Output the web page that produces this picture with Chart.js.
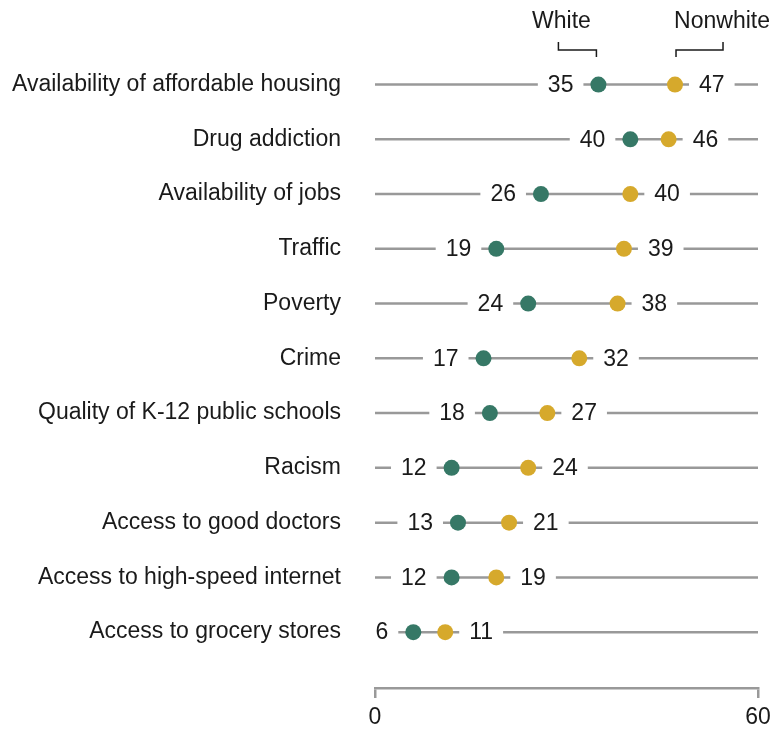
<!DOCTYPE html>
<html>
<head>
<meta charset="utf-8">
<script src="https://cdn.jsdelivr.net/npm/chart.js@4.4.0/dist/chart.umd.min.js"></script>
<style>body{margin:0;background:#fff}</style>
</head>
<body>
<canvas id="chartResults" width="782" height="730"></canvas>
<script>
'use strict';

var categories = [
  'Availability of affordable housing',
  'Drug addiction',
  'Availability of jobs',
  'Traffic',
  'Poverty',
  'Crime',
  'Quality of K-12 public schools',
  'Racism',
  'Access to good doctors',
  'Access to high-speed internet',
  'Access to grocery stores'
];
var white    = [35, 40, 26, 19, 24, 17, 18, 12, 13, 12, 6];
var nonwhite = [47, 46, 40, 39, 38, 32, 27, 24, 21, 19, 11];
var xTicks = [0, 60];
var seriesNames = ['White', 'Nonwhite'];

var FONT = '"Liberation Sans", Arial, sans-serif';
var GREEN = '#367866', GOLD = '#d6a92c', GRAY = '#999999', INK = '#1a1a1a';

function dots(values){
  return values.map(function(v, i){ return {x: v, y: i}; });
}

var datasets = [
  {label: seriesNames[0], data: dots(white), backgroundColor: GREEN, pointRadius: 8, pointBorderWidth: 0},
  {label: seriesNames[1], data: dots(nonwhite), backgroundColor: GOLD, pointRadius: 8, pointBorderWidth: 0}
];
// gray track behind each row
categories.forEach(function(c, i){
  datasets.push({
    label: c,
    data: [{x: xTicks[0], y: i}, {x: xTicks[xTicks.length - 1], y: i}],
    showLine: true, borderColor: GRAY, borderWidth: 2.5, pointRadius: 0
  });
});

function tag(ctx, text, x, y, align){
  var w = ctx.measureText(text).width;
  var left = align === 'right' ? x - w : x;
  ctx.fillStyle = '#fff';
  ctx.fillRect(left - 10, y - 6, w + 20, 12);
  ctx.fillStyle = INK;
  ctx.textAlign = align;
  ctx.fillText(text, x, y + 1);
}

var labelPlugin = {
  id: 'valueLabels',
  afterDatasetsDraw: function(chart){
    var ctx = chart.ctx, xs = chart.scales.x, ys = chart.scales.y;
    ctx.save();
    ctx.font = '23px ' + FONT;
    ctx.textBaseline = 'middle';
    categories.forEach(function(c, i){
      var y = ys.getPixelForValue(i);
      tag(ctx, String(white[i]), xs.getPixelForValue(white[i]) - 25, y, 'right');
      tag(ctx, String(nonwhite[i]), xs.getPixelForValue(nonwhite[i]) + 24, y, 'left');
    });

    // series labels with brackets over the first row
    var xw = xs.getPixelForValue(white[0]);
    var xn = xs.getPixelForValue(nonwhite[0]);
    ctx.fillStyle = INK;
    ctx.textAlign = 'center';
    ctx.fillText(seriesNames[0], xw - 37, 22);
    ctx.fillText(seriesNames[1], xn + 47, 22);
    ctx.strokeStyle = INK;
    ctx.lineWidth = 1.5;
    ctx.beginPath();
    ctx.moveTo(xw - 40, 42); ctx.lineTo(xw - 40, 50); ctx.lineTo(xw - 2, 50); ctx.lineTo(xw - 2, 57);
    ctx.moveTo(xn + 1, 57); ctx.lineTo(xn + 1, 50); ctx.lineTo(xn + 48, 50); ctx.lineTo(xn + 48, 42);
    ctx.stroke();
    ctx.restore();
  }
};

var ctx = document.getElementById('chartResults').getContext('2d');
var chart = new Chart(ctx, {
  type: 'scatter',
  data: {datasets: datasets},
  plugins: [labelPlugin],
  options: {
    responsive: false,
    animation: false,
    layout: {padding: {top: 55, right: 24, bottom: 0, left: 0}},
    plugins: {legend: {display: false}, tooltip: {enabled: false}},
    scales: {
      x: {
        type: 'linear', min: 0, max: 60,
        afterBuildTicks: function(s){ s.ticks = xTicks.map(function(v){ return {value: v}; }); },
        afterFit: function(s){ s.height = 42; },
        grid: {drawOnChartArea: false, drawTicks: true, tickLength: 10, color: GRAY, lineWidth: 2.5},
        border: {display: true, color: GRAY, width: 2.5},
        ticks: {padding: 6, color: INK, font: {size: 23, family: FONT}, maxRotation: 0}
      },
      y: {
        type: 'linear', reverse: true, min: -0.54, max: 11.02,
        afterBuildTicks: function(s){ s.ticks = categories.map(function(c, i){ return {value: i}; }); },
        afterFit: function(s){ s.width = 375; s.paddingTop = 0; s.paddingBottom = 0; },
        grid: {display: false, drawTicks: false},
        border: {display: false},
        ticks: {
          padding: 34, autoSkip: false, color: INK, font: {size: 23, family: FONT},
          callback: function(v){ return categories[v]; }
        }
      }
    }
  }
});
</script>
</body>
</html>
